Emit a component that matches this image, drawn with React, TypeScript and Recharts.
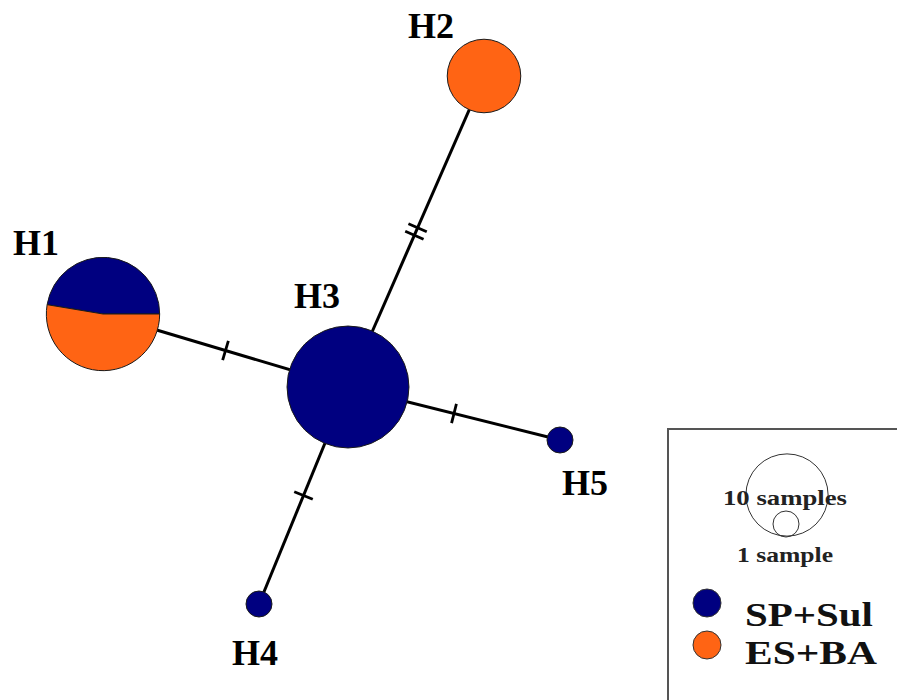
import React from 'react';
import { ScatterChart, Scatter, XAxis, YAxis, Legend, Sector } from 'recharts';

// haplotype network: node positions are in layout units (same as the 897x700 frame)
const haplotypes = ['H1', 'H2', 'H3', 'H4', 'H5'];
const nodeX = [103, 484, 348, 259, 560];
const nodeY = [314, 76, 387, 604, 440];
const spSulCounts = [9, 0, 22, 1, 1];
const esBaCounts = [10, 8, 0, 0, 0];

const edgeFrom = ['H3', 'H3', 'H3', 'H3'];
const edgeTo = ['H1', 'H2', 'H4', 'H5'];
const edgeMutations = [1, 2, 1, 1];

const groups = ['SP+Sul', 'ES+BA'];
const scaleSamples = [10, 1];

const COLORS = ['#000080', '#ff6414'];
const R_UNIT = 13; // radius of a 1-sample node
const FONT = 'Liberation Serif, Times New Roman, Times, serif';

// label placement relative to node centre (baseline, centred)
const labelOffset: Record<string, [number, number]> = {
  H1: [-67, -59],
  H2: [-53, -38],
  H3: [-31, -79],
  H4: [-4, 61],
  H5: [25, 55],
};

const nodes = haplotypes.map((id, i) => ({
  id,
  x: nodeX[i],
  y: nodeY[i],
  a: spSulCounts[i],
  b: esBaCounts[i],
}));
const nodeById = (id: string) => nodes.find((n) => n.id === id)!;

const edges = edgeFrom.map((f, i) => {
  const a = nodeById(f);
  const b = nodeById(edgeTo[i]);
  return [{ x: a.x, y: a.y }, { x: b.x, y: b.y }];
});

const marks = edgeFrom.flatMap((f, i) => {
  const a = nodeById(f);
  const b = nodeById(edgeTo[i]);
  const dx = b.x - a.x;
  const dy = b.y - a.y;
  const len = Math.hypot(dx, dy);
  const angle = (Math.atan2(dy, dx) * 180) / Math.PI;
  const m = edgeMutations[i];
  return Array.from({ length: m }, (_, k) => {
    const t = 0.5 + ((k - (m - 1) / 2) * 8) / len;
    return { x: a.x + dx * t, y: a.y + dy * t, angle };
  });
});

const radius = (n: number) => R_UNIT * Math.sqrt(n);

const textStyle = { fontFamily: FONT, fontWeight: 700 } as React.CSSProperties;

const NodeShape = (props: any) => {
  const { cx, cy, payload } = props;
  const total = payload.a + payload.b;
  const r = radius(total);
  const [ox, oy] = labelOffset[payload.id];
  let body;
  if (payload.a > 0 && payload.b > 0) {
    const split = (payload.a / total) * 360;
    body = (
      <g>
        <Sector cx={cx} cy={cy} innerRadius={0} outerRadius={r} startAngle={0} endAngle={split}
          fill={COLORS[0]} stroke="#1a1a1a" strokeWidth={1} />
        <Sector cx={cx} cy={cy} innerRadius={0} outerRadius={r} startAngle={split} endAngle={360}
          fill={COLORS[1]} stroke="#1a1a1a" strokeWidth={1} />
      </g>
    );
  } else {
    body = <circle cx={cx} cy={cy} r={r} fill={payload.a > 0 ? COLORS[0] : COLORS[1]} stroke="#1a1a1a" strokeWidth={1} />;
  }
  return (
    <g>
      {body}
      <text x={cx + ox} y={cy + oy} textAnchor="middle" style={textStyle} fontSize={36} fill="#000">
        {payload.id}
      </text>
    </g>
  );
};

const MarkShape = (props: any) => {
  const { cx, cy, payload } = props;
  return (
    <line x1={cx} y1={cy - 10} x2={cx} y2={cy + 10} stroke="#000" strokeWidth={2.8}
      transform={`rotate(${payload.angle} ${cx} ${cy})`} />
  );
};

const NoShape = () => <g />;

const NetworkLegend = () => (
  <svg width={240} height={280} style={{ display: 'block' }}>
    <rect x={1} y={1} width={270} height={300} fill="#fff" stroke="#555" strokeWidth={2} />
    <circle cx={120} cy={67} r={radius(scaleSamples[0])} fill="none" stroke="#333" strokeWidth={1} />
    <circle cx={119} cy={96} r={radius(scaleSamples[1])} fill="none" stroke="#333" strokeWidth={1} />
    <text x={56} y={77} style={textStyle} fontSize={21} textLength={124}
      lengthAdjust="spacingAndGlyphs" fill="#222">{`${scaleSamples[0]} samples`}</text>
    <text x={70} y={134} style={textStyle} fontSize={21} textLength={96}
      lengthAdjust="spacingAndGlyphs" fill="#222">{`${scaleSamples[1]} sample`}</text>
    {groups.map((g, i) => (
      <g key={g}>
        <circle cx={40} cy={175 + i * 42} r={14} fill={COLORS[i]} stroke="#333" strokeWidth={1} />
        <text x={78} y={198 + i * 38} style={textStyle} fontSize={34}
          textLength={i === 0 ? 128 : 132} lengthAdjust="spacingAndGlyphs" fill="#111">{g}</text>
      </g>
    ))}
  </svg>
);

export default function App() {
  return (
    <div style={{ position: 'absolute', left: 0, top: 0, width: 897, height: 700, overflow: 'hidden', background: '#fff' }}>
      <ScatterChart width={897} height={700} margin={{ top: 0, right: 0, bottom: 0, left: 0 }}>
        <XAxis type="number" dataKey="x" domain={[0, 897]} hide />
        <YAxis type="number" dataKey="y" domain={[0, 700]} reversed hide />
        {edges.map((e, i) => (
          <Scatter key={i} data={e} line={{ stroke: '#000', strokeWidth: 3 }} shape={NoShape}
            isAnimationActive={false} legendType="none" />
        ))}
        <Scatter data={marks} shape={MarkShape} isAnimationActive={false} legendType="none" />
        <Scatter data={nodes} shape={NodeShape} isAnimationActive={false} legendType="none" />
        <Legend layout="horizontal" verticalAlign="middle" align="center" content={NetworkLegend}
          wrapperStyle={{ position: 'absolute', left: 667, top: 428, width: 240, height: 280, margin: 0 }} />
      </ScatterChart>
    </div>
  );
}
